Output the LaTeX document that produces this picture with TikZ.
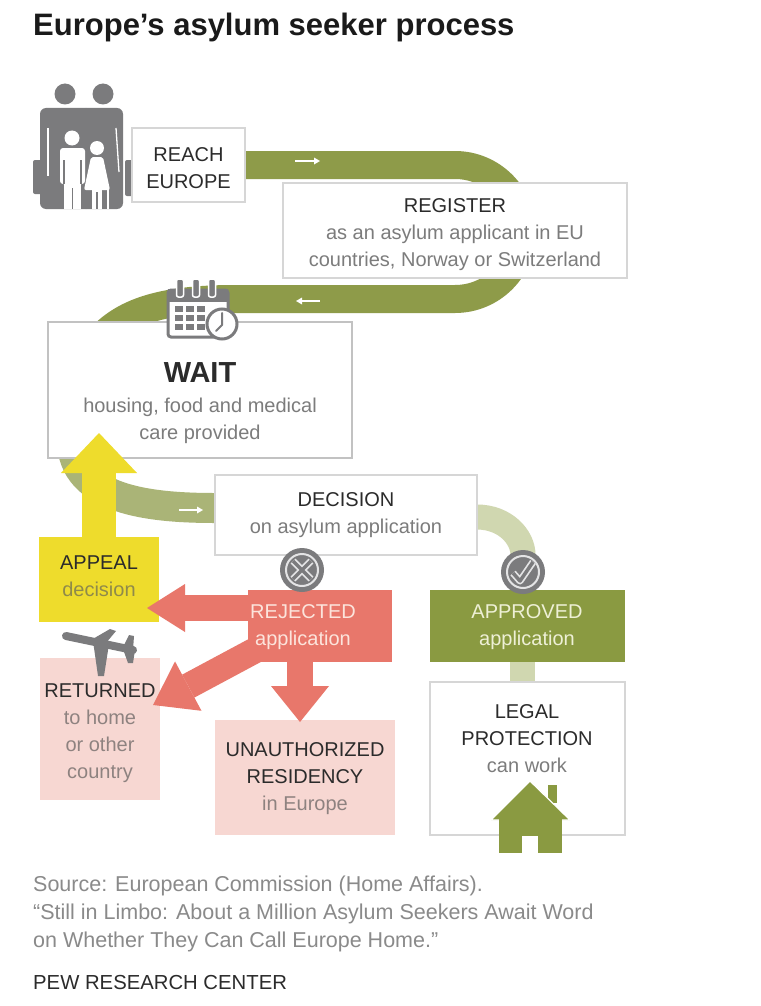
\documentclass[tikz,border=0pt]{standalone}
\usepackage{fontspec}
\setmainfont{Liberation Sans}
\usetikzlibrary{arrows.meta,calc}
\definecolor{cBand}{HTML}{8E9B49}
\definecolor{cBandB}{HTML}{AAB477}
\definecolor{cBandC}{HTML}{D0D7B0}
\definecolor{cApproved}{HTML}{8A9A41}
\definecolor{cYellow}{HTML}{EEDC2C}
\definecolor{cRed}{HTML}{E8776B}
\definecolor{cPink}{HTML}{F7D7D2}
\definecolor{cIcon}{HTML}{7B7B7D}
\definecolor{cBorder}{HTML}{D6D6D6}
\definecolor{cShadow}{HTML}{C2C2C2}
\definecolor{cDark}{HTML}{2B2B2B}
\definecolor{cGray}{HTML}{7C7C7C}
\definecolor{cPinkText}{HTML}{8E8280}
\definecolor{cYText}{HTML}{8F8A4A}
\definecolor{cRejText}{HTML}{FCE4DC}
\definecolor{cAppText}{HTML}{EEF0D6}
\definecolor{cFoot}{HTML}{8A8A8A}
\definecolor{cTitle}{HTML}{1A1A1A}
\pgfdeclarelayer{bottom}
\pgfdeclarelayer{bands}
\pgfsetlayers{bottom,bands,main}
\begin{document}
\begin{tikzpicture}[x=1pt,y=-1pt,
  box/.style={inner sep=0pt, outer sep=0pt},
  wbox/.style={box, draw=cBorder, line width=1.3pt, fill=white},
  txt/.style={align=center, font=\fontsize{20}{27}\selectfont, text=cDark, inner sep=0pt},
  foot/.style={anchor=base west, font=\fontsize{21.5}{28}\selectfont, text=cFoot, inner sep=0pt},
  band/.style={line width=28pt},
  wee/.style={white, line width=1.8pt, -{Triangle[length=6pt 0,width=7pt 0,line width=0pt]}},
  redarrow/.style={cRed, line width=26pt}
]
\begin{pgfonlayer}{bottom}
\fill[white] (0,0) rectangle (760,1006);
\end{pgfonlayer}
\useasboundingbox (0,0) rectangle (760,1006);

% title
\node[anchor=base west, inner sep=0pt, font=\fontsize{31}{34}\selectfont\bfseries, text=cTitle] (title) at (33,36) {Europe’s asylum seeker process};

% family icon
\fill[cIcon, rounded corners=2pt] (33,160) rectangle (47,194);
\fill[cIcon, rounded corners=2pt] (125,160) rectangle (135,196);
\fill[cIcon] (65,94) circle[radius=10.5];
\fill[cIcon] (103,94) circle[radius=10.5];
\fill[cIcon, rounded corners=6pt] (40,108) rectangle (92,209);
\fill[cIcon, rounded corners=6pt] (80,108) rectangle (123,209);
\draw[white, line width=1.3pt] (48,128) -- (48,176);
\draw[white, line width=1.3pt] (116,128) -- (119,172);
\draw[white, line width=1.3pt] (108,188) -- (108,209);
% children
\fill[white] (72,138) circle[radius=7.5];
\fill[white, rounded corners=3pt] (60,148) rectangle (85,184);
\fill[white] (64,180) rectangle (81,209);
\draw[cIcon, line width=1.2pt] (64,160) -- (64,184) (81,160) -- (81,184) (72.5,188) -- (72.5,209);
\fill[white] (97,148) circle[radius=7];
\fill[white, rounded corners=2pt] (91,157) -- (103,157) -- (110,190) -- (84,190) -- cycle;
\fill[white] (92,188) rectangle (102,209);
\draw[cIcon, line width=1.2pt] (97,192) -- (97,209);

% boxes
\node[wbox, minimum width=113pt, minimum height=74pt] (reach) at (188.5,165) {};
\node[wbox, minimum width=344pt, minimum height=95pt] (register) at (455,230.5) {};
\node[box, draw=cShadow, line width=2pt, fill=white, minimum width=304pt, minimum height=136pt] (wait) at (200,390) {};
\node[wbox, minimum width=262pt, minimum height=80pt] (decision) at (346,515) {};
\node[box, fill=cYellow, minimum width=120pt, minimum height=85pt] (appeal) at (99,579.5) {};
\node[box, fill=cRed, minimum width=144pt, minimum height=72pt] (rej) at (320,626) {};
\node[box, fill=cApproved, minimum width=195pt, minimum height=72pt] (appr) at (527.5,626) {};
\node[box, fill=cPink, minimum width=120pt, minimum height=142pt] (ret) at (100,729) {};
\node[box, fill=cPink, minimum width=180pt, minimum height=115pt] (unauth) at (305,777.5) {};
\node[wbox, minimum width=195pt, minimum height=153pt] (legal) at (527.5,758.5) {};
\coordinate (chk) at (523,572);
\coordinate (rejIcon) at (302,570);

% bands
\begin{pgfonlayer}{bands}
\draw[cBand, band] (reach.east) -- (455,165)
  .. controls (492,165) and (522,195) .. (522,232)
  .. controls (522,269) and (492,299) .. (455,299)
  -- (235,299) .. controls (160,299) and (118,312) .. ([xshift=44pt,yshift=-26pt]wait.north west);
\draw[cBandB, line width=30pt] ([xshift=24pt,yshift=18pt]wait.south west)
  .. controls (72,500) and (150,508) .. ([yshift=7pt]decision.west);
\draw[cBandC, line width=25pt] ([yshift=-2pt]decision.east)
  .. controls (505,517) and (523,537) .. ([yshift=17pt]chk);
\draw[cBandC, line width=25pt] ([xshift=-5pt]appr.south) -- ([xshift=-5pt]legal.north);
\draw[wee] (295,161) -- (320,161);
\draw[wee] (320,301) -- (296,301);
\draw[wee] (179,510) -- (203,510);
\end{pgfonlayer}

% arrows
\coordinate (appealTip) at ([yshift=25pt]wait.south -| appeal.north);
\draw[cYellow, line width=34pt, -{Triangle[length=40pt 0,width=76pt 0,line width=0pt]}] (appeal.north) -- (appealTip);
\draw[redarrow, -{Triangle[length=38pt 0,width=48pt 0,line width=0pt]}] ([yshift=18pt]rej.west) -- ([xshift=-12pt,yshift=-28.5pt]appeal.east);
\draw[redarrow, -{Triangle[length=40pt 0,width=56pt 0,line width=0pt]}] ([xshift=17pt,yshift=-19pt]rej.west) -- ([xshift=-7pt,yshift=-47pt]ret.north east);
\draw[redarrow, -{Triangle[length=36pt 0,width=58pt 0,line width=0pt]}] ([xshift=-20pt,yshift=4pt]rej.south) -- ([xshift=-5pt,yshift=-2pt]unauth.north);

% texts
\node[txt] (reachT) at (188.5,168) {REACH\\EUROPE};
\node[txt] (registerT) at (455,235) {REGISTER\\\textcolor{cGray}{as an asylum applicant in EU}\\\textcolor{cGray}{countries, Norway or Switzerland}};
\node[anchor=base, inner sep=0pt, font=\fontsize{29}{30}\selectfont\bfseries, text=cDark] (waitT) at (200,382) {WAIT};
\node[txt, text=cGray] (waitS) at (200,421) {housing, food and medical\\care provided};
\node[txt] (decT) at (346,515.5) {DECISION\\\textcolor{cGray}{on asylum application}};
\node[txt] (appT) at (99,576.5) {APPEAL\\\textcolor{cYText}{decision}};
\node[txt, text=cRejText] (rejT) at (303,627.5) {REJECTED\\application};
\node[txt, text=cAppText] (apprT) at (527,627.5) {APPROVED\\application};
\node[txt] (retT) at (100,733.5) {RETURNED\\\textcolor{cPinkText}{to home}\\\textcolor{cPinkText}{or other}\\\textcolor{cPinkText}{country}};
\node[txt] (unT) at (305,779) {UNAUTHORIZED\\RESIDENCY\\\textcolor{cPinkText}{in Europe}};
\node[txt] (legT) at (527,739) {LEGAL\\PROTECTION\\\textcolor{cGray}{can work}};

% calendar icon
\filldraw[fill=white, draw=cIcon, line width=3pt, rounded corners=3pt] (168,290) rectangle (228,337);
\fill[cIcon] (168,289) rectangle (228,302);
\foreach \cx in {180,196,212} {
  \filldraw[fill=cIcon, draw=white, line width=1.5pt, rounded corners=2pt] (\cx-3.5,279) rectangle (\cx+3.5,297);
}
\foreach \gx in {175,186,197} { \foreach \gy in {306,315,324} {
  \fill[cIcon] (\gx,\gy) rectangle (\gx+8,\gy+6);
}}
\filldraw[fill=white, draw=cIcon, line width=3pt] (222,324) circle[radius=15];
\draw[cIcon, line width=2pt, line cap=round, line join=round] (222,313) -- (222,325) -- (216,331);

% X icon
\fill[cIcon] (rejIcon) circle[radius=22];
\draw[white!80!cIcon, line width=2pt] (rejIcon) circle[radius=16];
\draw[white!80!cIcon, line width=7pt] ([shift={(-9,-9)}]rejIcon) -- ([shift={(9,9)}]rejIcon) ([shift={(9,-9)}]rejIcon) -- ([shift={(-9,9)}]rejIcon);
\draw[cIcon, line width=3.5pt] ([shift={(-9,-9)}]rejIcon) -- ([shift={(9,9)}]rejIcon) ([shift={(9,-9)}]rejIcon) -- ([shift={(-9,9)}]rejIcon);

% check icon
\fill[cIcon] (chk) circle[radius=22];
\draw[white!80!cIcon, line width=2pt] (chk) circle[radius=16];
\draw[white!80!cIcon, line width=7pt, line join=round] ([shift={(-10,1)}]chk) -- ([shift={(-3,9)}]chk) -- ([shift={(10,-10)}]chk);
\draw[cIcon, line width=3.5pt, line join=round] ([shift={(-10,1)}]chk) -- ([shift={(-3,9)}]chk) -- ([shift={(10,-10)}]chk);

% plane icon
\draw[cIcon, line width=8pt, line cap=round] (66,636) -- (133,650);
\fill[cIcon] (93,641) -- (109,644) -- (104,676) -- (98,676) -- cycle;
\fill[cIcon] (91,640) -- (110,629) -- (116,631) -- (106,643) -- cycle;
\fill[cIcon] (123,647) -- (129,635) -- (134,636) -- (133,650) -- cycle;
\fill[cIcon] (123,649) -- (128,663) -- (133,663) -- (135,650) -- cycle;

% house icon
\fill[cApproved] (548,785) rectangle (557,803);
\filldraw[fill=cApproved, draw=white, line width=1.2pt] (530,781) -- (570,820) -- (491,820) -- cycle;
\fill[cApproved] (499,819) rectangle (562,853);
\fill[white] (522,836) rectangle (538,853);

% footer
\node[foot] (src1) at (33,891.5) {Source: European Commission (Home Affairs).};
\node[foot] (src2) at (33,919.5) {“Still in Limbo: About a Million Asylum Seekers Await Word};
\node[foot] (src3) at (33,947.5) {on Whether They Can Call Europe Home.”};
\node[foot, text=cDark, font=\fontsize{20.3}{24}\selectfont] (pew) at (33,989.5) {PEW RESEARCH CENTER};
\end{tikzpicture}
\end{document}
